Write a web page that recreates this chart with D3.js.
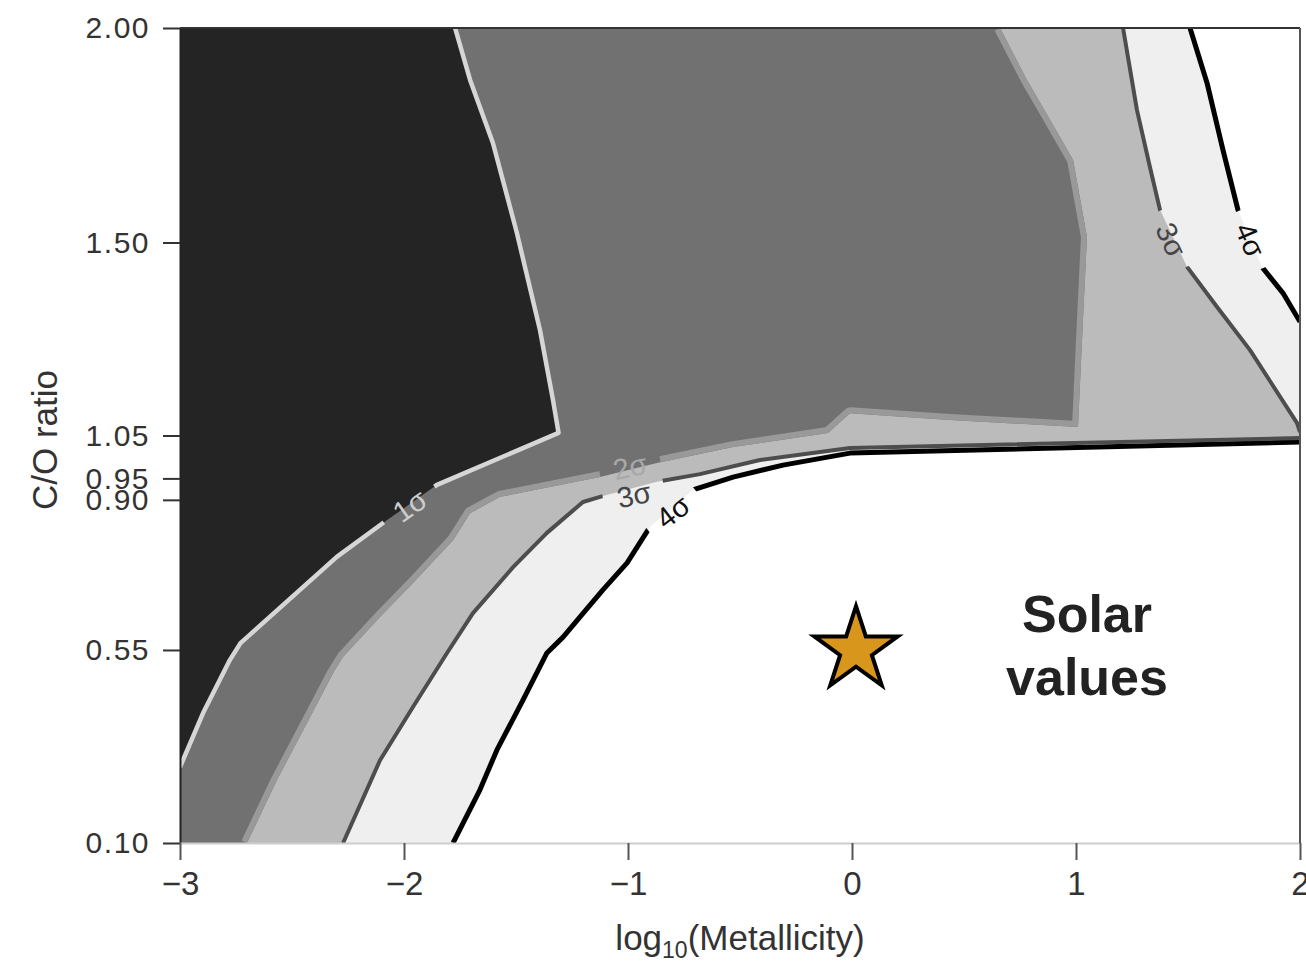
<!DOCTYPE html>
<html>
<head>
<meta charset="utf-8">
<script src="https://cdn.jsdelivr.net/npm/d3@7"></script>
<style>
html, body { margin: 0; padding: 0; background: #fff; }
svg { display: block; }
text { font-family: "Liberation Sans", Arial, Helvetica, sans-serif; }
</style>
</head>
<body>
<svg id="chart" width="1306" height="962"></svg>
<script>
// Confidence contours of the C/O ratio versus log10(metallicity) fit.

const xTicks = [-3, -2, -1, 0, 1, 2];
const yTicks = [0.10, 0.55, 0.90, 0.95, 1.05, 1.50, 2.00];

// 1σ contour (top edge -> left edge)
const sigma1LogZ = [-1.772, -1.705, -1.603, -1.496, -1.393, -1.335, -1.310, -1.853, -2.094, -2.300, -2.730, -2.777, -2.897, -3.000];
const sigma1CO   = [2.000, 1.879, 1.732, 1.522, 1.296, 1.133, 1.056, 0.935, 0.846, 0.767, 0.566, 0.527, 0.403, 0.277];

// 2σ contour (top edge -> bottom edge)
const sigma2LogZ = [0.661, 0.781, 0.884, 0.987, 1.049, 1.031, 1.009, 0.438, -0.009, -0.107, -0.531, -0.871, -1.125, -1.571, -1.705, -1.781, -1.960, -2.107, -2.272, -2.317, -2.433, -2.567, -2.701];
const sigma2CO   = [2.000, 1.879, 1.786, 1.692, 1.513, 1.319, 1.070, 1.086, 1.102, 1.056, 1.023, 0.986, 0.953, 0.907, 0.869, 0.806, 0.706, 0.627, 0.534, 0.496, 0.380, 0.247, 0.100];

// 3σ contour: upper branch (top -> right edge) and lower branch (right edge -> bottom)
const sigma3UpperLogZ = [1.210, 1.272, 1.330, 1.375, 1.496, 1.629, 1.777, 1.987, 2.000];
const sigma3UpperCO   = [2.000, 1.809, 1.676, 1.576, 1.443, 1.350, 1.249, 1.079, 1.058];
const sigma3LowerLogZ = [2.000, -0.009, -0.411, -0.679, -0.871, -1.125, -1.201, -1.362, -1.513, -1.692, -1.808, -1.960, -2.107, -2.272];
const sigma3LowerCO   = [1.044, 1.021, 0.993, 0.960, 0.942, 0.907, 0.895, 0.823, 0.743, 0.636, 0.543, 0.417, 0.293, 0.100];

// 4σ contour: upper branch and lower branch
const sigma4UpperLogZ = [1.509, 1.585, 1.656, 1.723, 1.830, 1.924, 2.000];
const sigma4UpperCO   = [2.000, 1.872, 1.716, 1.576, 1.443, 1.382, 1.315];
const sigma4LowerLogZ = [2.000, -0.009, -0.308, -0.531, -0.710, -0.902, -1.004, -1.112, -1.214, -1.290, -1.362, -1.469, -1.585, -1.661, -1.781];
const sigma4LowerCO   = [1.035, 1.009, 0.981, 0.953, 0.923, 0.837, 0.753, 0.690, 0.627, 0.580, 0.543, 0.433, 0.317, 0.224, 0.100];

// Contour labels
const labelText  = ["1σ", "2σ", "3σ", "4σ", "3σ", "4σ"];
const labelLevel = [1, 2, 3, 4, 3, 4];
const labelLogZ  = [-1.973, -0.991, -0.973, -0.799, 1.424, 1.777];
const labelCO    = [0.886, 0.977, 0.911, 0.872, 1.506, 1.506];
const labelAngle = [-35, -12, -12, -38, 65, 67];

// Solar reference point
const solarLogZ = [0];
const solarCO   = [0.55];

const fills       = { 1: "#242424", 2: "#717171", 3: "#bbbbbb", 4: "#efefef" };
const lineColors  = { 1: "#d6d6d6", 2: "#999999", 3: "#4d4d4d", 4: "#000000" };
const labelColors = { 1: "#cccccc", 2: "#a8a8a8", 3: "#444444", 4: "#111111" };

const svg = d3.select("#chart");
const x = d3.scaleLinear().domain([-3, 2]).range([180, 1300]);
const y = d3.scaleLinear().domain([0.1, 2.0]).range([843, 28]);
const [xMin, xMax] = x.domain();
const [yMin, yMax] = y.domain();

const zip = (xs, ys) => xs.map((v, i) => [v, ys[i]]);

const c1 = zip(sigma1LogZ, sigma1CO);
const c2 = zip(sigma2LogZ, sigma2CO);
const c3u = zip(sigma3UpperLogZ, sigma3UpperCO), c3l = zip(sigma3LowerLogZ, sigma3LowerCO);
const c4u = zip(sigma4UpperLogZ, sigma4UpperCO), c4l = zip(sigma4LowerLogZ, sigma4LowerCO);

const regions = {
  4: [...c4u, ...c4l, [xMin, yMin], [xMin, yMax]],
  3: [...c3u, ...c3l, [xMin, yMin], [xMin, yMax]],
  2: [...c2, [xMin, yMin], [xMin, yMax]],
  1: [...c1, [xMin, yMax]]
};
const contourLines = { 1: [c1], 2: [c2], 3: [c3u, c3l], 4: [c4u, c4l] };

const line = d3.line().x(d => x(d[0])).y(d => y(d[1]));
const defs = svg.append("defs");

defs.append("clipPath").attr("id", "plot-clip")
  .append("rect")
  .attr("x", x(xMin)).attr("y", y(yMax))
  .attr("width", x(xMax) - x(xMin)).attr("height", y(yMin) - y(yMax));

// The 2σ line sits on the inner side of its boundary
defs.append("clipPath").attr("id", "region2-clip")
  .append("path").attr("d", line(regions[2]) + "Z");

// Gaps in each contour line where its labels sit
[1, 2, 3, 4].forEach(level => {
  const m = defs.append("mask").attr("id", "gap-" + level)
    .attr("maskUnits", "userSpaceOnUse")
    .attr("x", 0).attr("y", 0).attr("width", 1306).attr("height", 962);
  m.append("rect").attr("width", 1306).attr("height", 962).attr("fill", "#fff");
  labelText.forEach((t, i) => {
    if (labelLevel[i] !== level) return;
    m.append("rect")
      .attr("x", -31).attr("y", -16).attr("width", 62).attr("height", 32)
      .attr("fill", "#000")
      .attr("transform", `translate(${x(labelLogZ[i])},${y(labelCO[i])}) rotate(${labelAngle[i]})`);
  });
});

const plot = svg.append("g").attr("clip-path", "url(#plot-clip)");

// Filled confidence regions, outermost first
[4, 3, 2, 1].forEach(level => {
  plot.append("path")
    .attr("d", line(regions[level]) + "Z")
    .attr("fill", fills[level]);
});

// Contour lines
const widths = { 1: 4.5, 2: 12, 3: 4, 4: 5 };
[4, 3, 2, 1].forEach(level => {
  const g = plot.append("g");
  if (level === 2) g.attr("clip-path", "url(#region2-clip)");
  contourLines[level].forEach(pts => {
    g.append("path")
      .attr("d", line(pts))
      .attr("fill", "none")
      .attr("stroke", lineColors[level])
      .attr("stroke-width", widths[level])
      .attr("stroke-linejoin", "round")
      .attr("mask", `url(#gap-${level})`);
  });
});

// Contour labels
labelText.forEach((t, i) => {
  plot.append("text")
    .attr("transform", `translate(${x(labelLogZ[i])},${y(labelCO[i])}) rotate(${labelAngle[i]})`)
    .attr("text-anchor", "middle")
    .attr("dominant-baseline", "central")
    .attr("font-size", 29)
    .attr("fill", labelColors[labelLevel[i]])
    .text(t);
});

// Solar values star
svg.selectAll(".solar")
  .data(zip(solarLogZ, solarCO))
  .join("path")
  .attr("class", "solar")
  .attr("transform", d => `translate(${x(d[0]) + 4},${y(d[1])})`)
  .attr("d", d3.symbol(d3.symbolStar).size(2150))
  .attr("fill", "#d8971c")
  .attr("stroke", "#000")
  .attr("stroke-width", 4)
  .attr("stroke-linejoin", "miter");

const solarLabel = svg.append("text")
  .attr("text-anchor", "middle")
  .attr("font-size", 52)
  .attr("font-weight", "bold")
  .attr("fill", "#222");
solarLabel.append("tspan").attr("x", 1087).attr("y", 632).text("Solar");
solarLabel.append("tspan").attr("x", 1087).attr("y", 695).text("values");

// Axes
const yAxis = svg.append("g")
  .attr("transform", `translate(${x(xMin)},0)`)
  .call(d3.axisLeft(y).tickValues(yTicks).tickFormat(d3.format(".2f"))
    .tickSize(17).tickSizeOuter(0).tickPadding(13));
yAxis.select(".domain").attr("stroke", "#222").attr("stroke-width", 2);
yAxis.selectAll(".tick line").attr("stroke", "#333").attr("stroke-width", 2);
yAxis.selectAll(".tick text").attr("font-size", 30).attr("fill", "#333")
  .attr("letter-spacing", 1.5)
  .attr("font-family", "'Liberation Sans', Arial, sans-serif");

const xAxis = svg.append("g")
  .attr("transform", `translate(0,${y(yMin)})`)
  .call(d3.axisBottom(x).tickValues(xTicks).tickFormat(d3.format("d"))
    .tickSize(17).tickSizeOuter(0).tickPadding(12));
xAxis.select(".domain").attr("stroke", "#cdcdcd").attr("stroke-width", 2);
xAxis.selectAll(".tick line").attr("stroke", "#555").attr("stroke-width", 2);
xAxis.selectAll(".tick text").attr("font-size", 33).attr("fill", "#333")
  .attr("font-family", "'Liberation Sans', Arial, sans-serif");

// Top and right frame
svg.append("line")
  .attr("x1", x(xMin)).attr("x2", x(xMax)).attr("y1", y(yMax)).attr("y2", y(yMax))
  .attr("stroke", "#333").attr("stroke-width", 2);
svg.append("line")
  .attr("x1", x(xMax)).attr("x2", x(xMax)).attr("y1", y(yMax)).attr("y2", y(yMin))
  .attr("stroke", "#555").attr("stroke-width", 2);

// Axis titles
svg.append("text")
  .attr("transform", "translate(57,440) rotate(-90)")
  .attr("text-anchor", "middle")
  .attr("font-size", 35)
  .attr("fill", "#333")
  .text("C/O ratio");

const xTitle = svg.append("text")
  .attr("x", 740).attr("y", 950)
  .attr("text-anchor", "middle")
  .attr("font-size", 35)
  .attr("fill", "#333");
xTitle.append("tspan").text("log");
xTitle.append("tspan").attr("font-size", 23).attr("dy", 8).text("10");
xTitle.append("tspan").attr("dy", -8).text("(Metallicity)");
</script>
</body>
</html>
